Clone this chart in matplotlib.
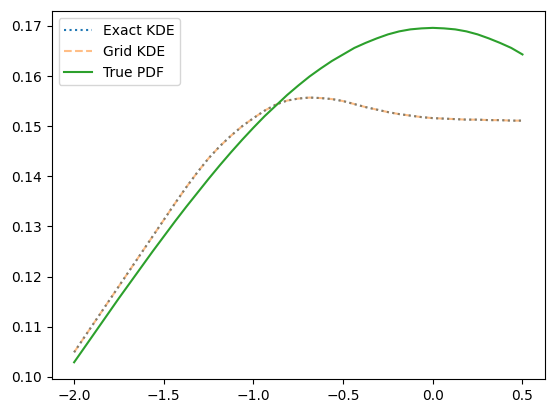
import matplotlib.pyplot as plt

# Values (step 0.0625)
x_vals = [-2.0, -1.9375, -1.875, -1.8125, -1.75, -1.6875, -1.625, -1.5625,
          -1.5, -1.4375, -1.375, -1.3125, -1.25, -1.1875, -1.125, -1.0625,
          -1.0, -0.9375, -0.875, -0.8125, -0.75, -0.6875, -0.625, -0.5625,
          -0.5, -0.4375, -0.375, -0.3125, -0.25, -0.1875, -0.125, -0.0625,
          0.0, 0.0625, 0.125, 0.1875, 0.25, 0.3125, 0.375, 0.4375, 0.5]

kde_exact = [0.1049, 0.1082, 0.1115, 0.1148, 0.1181, 0.1214, 0.1247, 0.1280,
             0.1313, 0.1346, 0.1378, 0.1408, 0.1436, 0.1460, 0.1481, 0.1500,
             0.1516, 0.1531, 0.1543, 0.1551, 0.1555, 0.1557, 0.1556, 0.1554,
             0.1550, 0.1544, 0.1538, 0.1533, 0.1528, 0.1524, 0.1521, 0.1518,
             0.1516, 0.1515, 0.1514, 0.1513, 0.1513, 0.1512, 0.1512, 0.1511,
             0.1511]

kde_grid = [0.1049, 0.1082, 0.1115, 0.1148, 0.1181, 0.1214, 0.1247, 0.1280,
            0.1313, 0.1346, 0.1378, 0.1408, 0.1436, 0.1460, 0.1481, 0.1500,
            0.1516, 0.1531, 0.1543, 0.1551, 0.1555, 0.1557, 0.1556, 0.1554,
            0.1550, 0.1544, 0.1538, 0.1533, 0.1528, 0.1524, 0.1521, 0.1518,
            0.1516, 0.1515, 0.1514, 0.1513, 0.1513, 0.1512, 0.1512, 0.1511,
            0.1511]

true_pdf = [0.1029, 0.1061, 0.1093, 0.1125, 0.1157, 0.1188, 0.1219, 0.1250,
            0.1280, 0.1310, 0.1339, 0.1367, 0.1395, 0.1422, 0.1448, 0.1473,
            0.1497, 0.1520, 0.1541, 0.1562, 0.1581, 0.1599, 0.1615, 0.1630,
            0.1643, 0.1656, 0.1666, 0.1675, 0.1683, 0.1689, 0.1693, 0.1695,
            0.1696, 0.1695, 0.1693, 0.1689, 0.1683, 0.1675, 0.1666, 0.1656,
            0.1643]

fig, ax = plt.subplots(figsize=(5.56, 4.13), dpi=100)
fig.subplots_adjust(left=0.093, right=0.980, bottom=0.0823, top=0.973)

ax.plot(x_vals, kde_exact, ":", label="Exact KDE")
ax.plot(x_vals, kde_grid, "--", alpha=0.5, label="Grid KDE")
ax.plot(x_vals, true_pdf, "-", label="True PDF")
ax.legend(loc="upper left")

fig.savefig("out.png")
